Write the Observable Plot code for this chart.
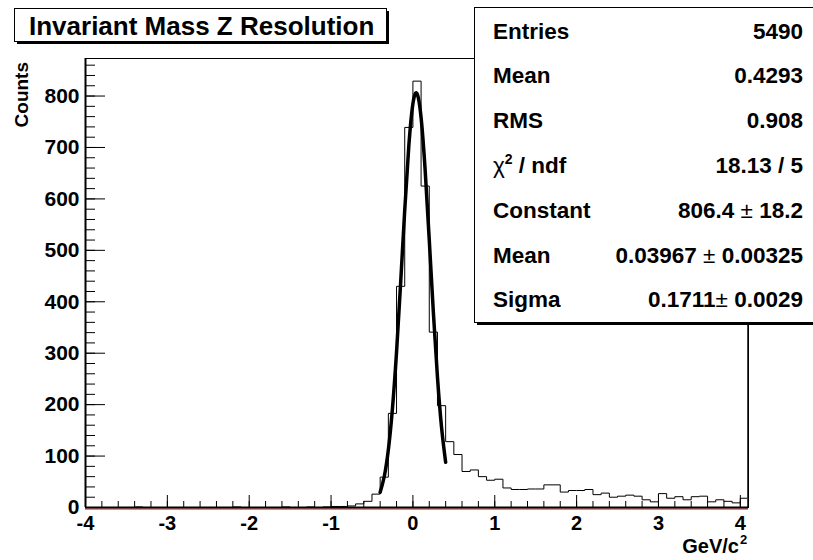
<!DOCTYPE html>
<html><head><meta charset="utf-8">
<script src="https://cdn.jsdelivr.net/npm/d3@7"></script>
<script src="https://cdn.jsdelivr.net/npm/@observablehq/plot@0.6"></script>
<style>
body{margin:0;background:#fff;}
#wrap{position:relative;width:813px;height:560px;}
</style></head><body><div id="wrap"></div>
<script>
// ---- data ----
const binStart = -4, binWidth = 0.1;
const counts = [
  0,0,0,0,0,0,1,0,0,0,          // -4.0 .. -3.1
  0,0,0,0,0,0,0,0,1,0,          // -3.0 .. -2.1
  0,0,0,0,1,0,0,1,0,1,          // -2.0 .. -1.1
  2,2,3,7,12,26,59,183,430,739, // -1.0 .. -0.1
  829,625,341,198,128,103,70,73,60,53, // 0.0 .. 0.9
  55,38,35,35,36,36,44,44,30,33, // 1.0 .. 1.9
  33,35,25,28,20,22,24,22,15,11, // 2.0 .. 2.9
  27,18,21,15,21,22,11,15,12,9,  // 3.0 .. 3.9
  18                              // 4.0
];
const fitX = [-0.40,-0.35,-0.30,-0.25,-0.20,-0.15,-0.10,-0.05,0.00,0.05,0.10,0.15,0.20,0.25,0.30,0.35,0.40];
const fitY = [29.7,60.3,112.4,192.4,302.3,436.2,577.9,702.9,785.0,804.9,757.8,655.0,519.8,378.8,253.4,155.7,87.9];
const xMajorTicks = [-4,-3,-2,-1,0,1,2,3,4];
const yMajorTicks = [0,100,200,300,400,500,600,700,800];
const titleText = "Invariant Mass Z Resolution";
const yTitle = "Counts";
const xTitle = "GeV/c";
const statLabels = ["Entries","Mean","RMS","CHI","Constant","Mean","Sigma"];
const statValues = [["5490"],["0.4293"],["0.908"],["18.13 / 5"],["806.4 ","\u00b1"," 18.2"],["0.03967 ","\u00b1"," 0.00325"],["0.1711","\u00b1"," 0.0029"]];

// ---- layout ----
const W = 813, H = 560, mL = 85, mR = 65, mT = 58, mB = 53;
const plotW = W - mL - mR, plotH = H - mT - mB;
const FONT = "'Liberation Sans', Arial, Helvetica, sans-serif";

const hist = counts.map((c, i) => ({x: binStart + i * binWidth, y: c}));
hist.push({x: binStart + counts.length * binWidth, y: counts[counts.length - 1]});
const fit = fitX.map((x, i) => ({x, y: fitY[i]}));
const yMinor = d3.range(0, 873, 20);
const xMinor = d3.range(-4, 4.05, 0.2).map(v => +v.toFixed(2));

const chart = Plot.plot({
  width: W, height: H,
  marginLeft: mL, marginRight: mR, marginTop: mT, marginBottom: mB,
  x: {domain: [-4, 4.1]},
  y: {domain: [0, 873]},
  style: {fontFamily: FONT, fontWeight: "bold", fontSize: "20px", color: "black", background: "white"},
  marks: [
    Plot.tickY(yMinor, {y: d => d, insetRight: plotW - 10, stroke: "black"}),
    Plot.tickY(yMajorTicks, {y: d => d, insetRight: plotW - 20, stroke: "black"}),
    Plot.tickX(xMinor, {x: d => d, insetTop: plotH - 6, stroke: "black"}),
    Plot.tickX(xMajorTicks, {x: d => d, insetTop: plotH - 12, stroke: "black"}),
    Plot.axisY({ticks: yMajorTicks, tickSize: 0, tickPadding: 6, label: null, fontSize: 21, fontWeight: "bold", tickFormat: d => String(d)}),
    Plot.axisX({ticks: xMajorTicks, tickSize: 0, tickPadding: 8, label: null, fontSize: 20, fontWeight: "bold", tickFormat: d => String(d)}),
    Plot.line(hist, {x: "x", y: "y", curve: "step-after", stroke: "black", strokeWidth: 1}),
    Plot.line(fit, {x: "x", y: "y", curve: "natural", stroke: "black", strokeWidth: 3.5, strokeLinejoin: "round"}),
    Plot.ruleY([0], {stroke: "#e00000", dy: 1.5}),
    Plot.ruleX([4.1], {stroke: "#e00000", dx: -1}),
    Plot.frame({stroke: "black"}),
    Plot.ruleY([0], {stroke: "black", strokeWidth: 2}),
    Plot.ruleX([-4], {stroke: "black", strokeWidth: 2})
  ]
});
document.getElementById("wrap").appendChild(chart);

const svg = d3.select(chart);
function txt(parent, x, y, size, anchor) {
  return parent.append("text").attr("x", x).attr("y", y)
    .attr("text-anchor", anchor)
    .attr("font-family", FONT).attr("font-weight", "bold").attr("font-size", size)
    .attr("fill", "black");
}
// axis titles
svg.append("text")
  .attr("transform", "translate(28,62) rotate(-90)")
  .attr("text-anchor", "end")
  .attr("font-family", FONT).attr("font-weight", "bold").attr("font-size", 19)
  .attr("fill", "black").text(yTitle);
txt(svg, 739, 553, 20, "end").text(xTitle);
txt(svg, 740, 544, 13, "start").text("2");

// title box
const tg = svg.append("g");
tg.append("rect").attr("x", 17).attr("y", 11).attr("width", 372).attr("height", 33).attr("fill", "black");
tg.append("rect").attr("x", 14.5).attr("y", 8.5).attr("width", 372).attr("height", 33).attr("fill", "white").attr("stroke", "black");
txt(tg, 29, 35, 26, "start").text(titleText);

// stats box
const sg = svg.append("g");
sg.append("rect").attr("x", 477).attr("y", 10).attr("width", 345).attr("height", 315).attr("fill", "black");
sg.append("rect").attr("x", 474.5).attr("y", 7.5).attr("width", 345).attr("height", 315).attr("fill", "white").attr("stroke", "black");
const rowY = [39, 83, 128, 173, 218, 263, 307];
statLabels.forEach((lab, i) => {
  const t = txt(sg, 493, rowY[i], 22.5, "start");
  if (lab === "CHI") {
    t.append("tspan").attr("font-weight", "normal").text("\u03c7");
    t.append("tspan").attr("font-size", 14).attr("dy", -9).text("2");
    t.append("tspan").attr("dy", 9).text(" / ndf");
  } else {
    t.text(lab);
  }
  const v = txt(sg, 803, rowY[i], 22.5, "end");
  statValues[i].forEach(part => {
    const s = v.append("tspan").text(part);
    if (part === "\u00b1") s.attr("font-weight", "normal");
  });
});
</script>
</body></html>
